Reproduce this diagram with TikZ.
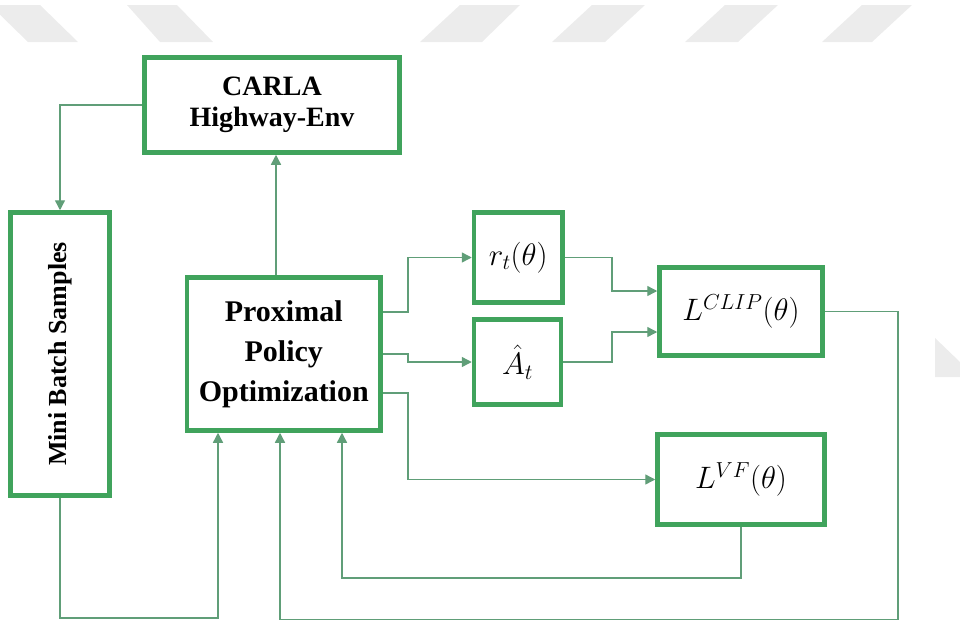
\RequirePackage{fix-cm}
\documentclass[tikz,border=0pt]{standalone}
\usepackage{fontspec}
\setmainfont{Liberation Serif}
\usepackage{graphicx}
\usetikzlibrary{arrows.meta}
\definecolor{boxgreen}{RGB}{64,163,92}
\definecolor{linegreen}{RGB}{96,158,120}
\definecolor{stripegray}{RGB}{236,236,236}
\begin{document}
\begin{tikzpicture}[x=1pt,y=-1pt,
  box/.style={draw=boxgreen,line width=4.5pt,fill=white,inner sep=0pt,align=center,text=black},
  conn/.style={draw=linegreen,line width=1.4pt,-{Triangle[length=10pt,width=10pt]}},
  stripe/.style={fill=stripegray,draw=none},
  mathlbl/.style={font=\fontsize{31}{36}\selectfont}]
\useasboundingbox (0,0) rectangle (960,621);
% watermark stripes
\fill[stripe] (-10,5) -- (40,5) -- (78,42) -- (28,42) -- cycle;
\fill[stripe] (127,5) -- (177,5) -- (213,42) -- (160,42) -- cycle;
\fill[stripe] (460,5) -- (520,5) -- (482,42) -- (420,42) -- cycle;
\fill[stripe] (592,5) -- (645,5) -- (605,42) -- (552,42) -- cycle;
\fill[stripe] (725,5) -- (778,5) -- (738,42) -- (685,42) -- cycle;
\fill[stripe] (862,5) -- (912,5) -- (872,42) -- (822,42) -- cycle;
\fill[stripe] (935,338) -- (960,362) -- (960,377) -- (935,377) -- cycle;
% nodes
\node[box,minimum width=255pt,minimum height=95pt,font=\fontsize{28}{31}\selectfont\bfseries] (carla) at (272,105) {CARLA\\Highway-Env};
\node[box,minimum width=99pt,minimum height=283pt,font=\fontsize{26}{30}\selectfont\bfseries] (mini) at (60,354) {\rotatebox{90}{Mini Batch Samples}};
\node[box,minimum width=193.5pt,minimum height=153pt,font=\fontsize{30}{40}\selectfont\bfseries] (ppo) at (283.75,354) {Proximal\\Policy\\Optimization};
\node[box,mathlbl,minimum width=88.5pt,minimum height=90pt] (rt) at (518.25,257.5) {$r_t(\theta)$};
\node[box,mathlbl,minimum width=87pt,minimum height=85pt] (at) at (517.5,362) {$\hat{A}_t$};
\node[box,mathlbl,minimum width=163pt,minimum height=88pt] (lclip) at (741,311.5) {$L^{CLIP}(\theta)$};
\node[box,mathlbl,minimum width=167pt,minimum height=90pt] (lvf) at (741,479.5) {$L^{VF}(\theta)$};
% routing coordinates
\coordinate (jx) at (408,0);
\coordinate (jx2) at (612,0);
\coordinate (b1) at (0,618);
\coordinate (b2) at (0,578);
\coordinate (c3) at (898,619.5);
% connectors
\draw[conn] (carla.west) -| (mini.north);
\draw[conn] ([xshift=-7.75pt]ppo.north) -- ([xshift=-7.75pt]ppo.north |- carla.south);
\draw[conn] ([yshift=42pt]ppo.east) -- ([yshift=42pt]ppo.east -| jx) |- (rt.west);
\draw[conn] (ppo.east) -- (ppo.east -| jx) |- (at.west);
\draw[conn] ([yshift=-39pt]ppo.east) -- ([yshift=-39pt]ppo.east -| jx) |- (lvf.west);
\draw[conn] (rt.east) -- (rt.east -| jx2) |- ([yshift=20.5pt]lclip.west);
\draw[conn] (at.east) -- (at.east -| jx2) |- ([yshift=-20.5pt]lclip.west);
\draw[conn] (mini.south) -- (mini.south |- b1) -| ([xshift=-65.75pt]ppo.south);
\draw[conn] (lvf.south) -- (lvf.south |- b2) -| ([xshift=58.25pt]ppo.south);
\draw[conn] (lclip.east) -- (lclip.east -| c3) -- (c3) -| ([xshift=-3.75pt]ppo.south);
\end{tikzpicture}
\end{document}
